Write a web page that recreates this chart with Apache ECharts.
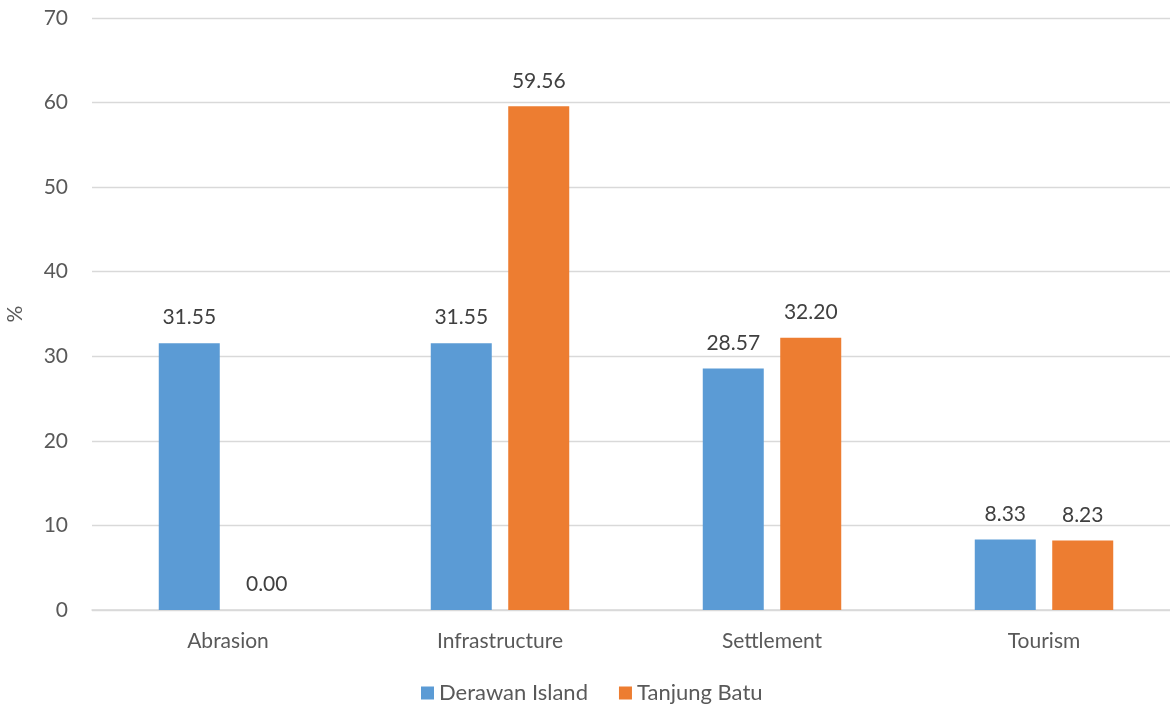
<!DOCTYPE html>
<html><head><meta charset="utf-8">
<script src="https://cdn.jsdelivr.net/npm/echarts@6/dist/echarts.min.js"></script>
<style>html,body{margin:0;padding:0;background:#fff}#c{width:1170px;height:707px}</style>
</head><body><div id="c"></div>
<script>
var categories = ['Abrasion', 'Infrastructure', 'Settlement', 'Tourism'];
var derawan = [31.55, 31.55, 28.57, 8.33];
var tanjung = [0.00, 59.56, 32.20, 8.23];
var seriesNames = ['Derawan Island', 'Tanjung Batu'];
var FONT = 'Lato';
var FS = 21;
var chart = echarts.init(document.getElementById('c'));
var lbl = {show: true, position: 'top', distance: 15, color: '#404040', fontSize: FS, fontFamily: FONT,
  formatter: function(p){ return p.value.toFixed(2); }};
chart.setOption({
  animation: false,
  textStyle: {fontFamily: FONT},
  grid: {left: 92, width: 1088, top: 18, bottom: 97, outerBoundsMode: 'none', containLabel: false},
  legend: {bottom: -2, left: 416, icon: 'rect', itemWidth: 13, itemHeight: 13, itemGap: 31,
    textStyle: {color: '#595959', fontSize: 22, fontFamily: FONT}, data: seriesNames},
  xAxis: {type: 'category', data: categories,
    axisLine: {lineStyle: {color: '#d9d9d9', width: 1.5}}, axisTick: {show: false},
    axisLabel: {color: '#595959', fontSize: FS, fontFamily: FONT, margin: 21}},
  yAxis: {type: 'value', min: 0, max: 70, interval: 10, name: '%', nameLocation: 'middle', nameGap: 66,
    nameTextStyle: {color: '#595959', fontSize: FS, fontFamily: FONT},
    axisLine: {show: false}, axisTick: {show: false},
    splitLine: {lineStyle: {color: '#d9d9d9', width: 1.3}},
    axisLabel: {color: '#595959', fontSize: FS, fontFamily: FONT, margin: 24}},
  series: [
    {name: seriesNames[0], type: 'bar', data: derawan, barWidth: 61, barGap: '27%', itemStyle: {color: '#5B9BD5'}, label: lbl},
    {name: seriesNames[1], type: 'bar', data: tanjung, barWidth: 61, barGap: '27%', itemStyle: {color: '#ED7D31'}, label: lbl}
  ]
});
</script></body></html>
